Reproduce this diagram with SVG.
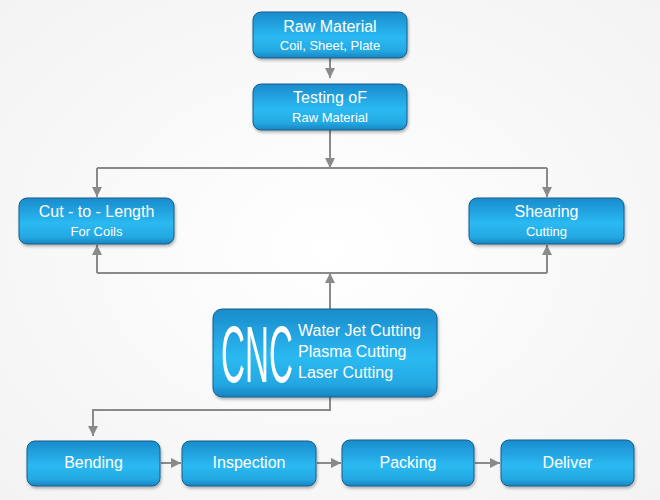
<svg xmlns="http://www.w3.org/2000/svg" width="660" height="500" viewBox="0 0 660 500">
<defs>
<linearGradient id="g" x1="0" y1="0" x2="0" y2="1">
<stop offset="0" stop-color="#1a8bcc"/>
<stop offset="0.55" stop-color="#2bb9f1"/>
<stop offset="0.85" stop-color="#24a8e2"/>
<stop offset="1" stop-color="#1784c2"/>
</linearGradient>
<filter id="sh" x="-10%" y="-10%" width="130%" height="140%">
<feGaussianBlur in="SourceAlpha" stdDeviation="1.5"/>
<feOffset dx="1" dy="2" result="b"/>
<feComponentTransfer><feFuncA type="linear" slope="0.3"/></feComponentTransfer>
<feMerge><feMergeNode/><feMergeNode in="SourceGraphic"/></feMerge>
</filter>
<marker id="ah" markerWidth="10" markerHeight="10" viewBox="0 0 10 10" refX="10" refY="5" orient="auto" markerUnits="userSpaceOnUse">
<path d="M0,0 L10,5 L0,10 z" fill="#8a8a8a"/>
</marker>
<radialGradient id="bg" cx="0.5" cy="0.5" r="0.7">
<stop offset="0" stop-color="#ffffff"/>
<stop offset="1" stop-color="#f3f3f3"/>
</radialGradient>
</defs>
<style>
.box{fill:url(#g);stroke:#145f88;stroke-width:1;filter:url(#sh)}
.t{font-family:"Liberation Sans",Arial,sans-serif;fill:#ffffff;text-anchor:middle;font-size:16px}
.s{font-family:"Liberation Sans",Arial,sans-serif;fill:#ffffff;text-anchor:middle;font-size:13px}
.c{fill:none;stroke:#8a8a8a;stroke-width:2}
.l{font-family:"Liberation Sans",Arial,sans-serif;fill:#ffffff;font-size:16px}
</style>
<rect width="660" height="500" fill="url(#bg)"/>
<g id="connectors">
<path class="c" d="M330,58 V78" marker-end="url(#ah)"/>
<path class="c" d="M330,130 V168" marker-end="url(#ah)"/>
<path class="c" d="M97,168 H547"/>
<path class="c" d="M97,168 V197" marker-end="url(#ah)"/>
<path class="c" d="M547,168 V197" marker-end="url(#ah)"/>
<path class="c" d="M330,309 V273" marker-end="url(#ah)"/>
<path class="c" d="M97,273 H547"/>
<path class="c" d="M97,273 V245" marker-end="url(#ah)"/>
<path class="c" d="M547,273 V245" marker-end="url(#ah)"/>
<path class="c" d="M330,397 V410 H93 V436" marker-end="url(#ah)"/>
<path class="c" d="M161,463 H181" marker-end="url(#ah)"/>
<path class="c" d="M317,463 H341" marker-end="url(#ah)"/>
<path class="c" d="M475,463 H500" marker-end="url(#ah)"/>
</g>
<g id="raw-material">
<rect class="box" x="253" y="12" width="154" height="46" rx="8"/>
<text class="t" x="330" y="32">Raw Material</text>
<text class="s" x="330" y="50">Coil, Sheet, Plate</text>
</g>
<g id="testing">
<rect class="box" x="253" y="84" width="154" height="46" rx="8"/>
<text class="t" x="330" y="103">Testing oF</text>
<text class="s" x="330" y="122">Raw Material</text>
</g>
<g id="cut-to-length">
<rect class="box" x="19" y="198" width="155" height="46" rx="8"/>
<text class="t" x="96.5" y="217">Cut - to - Length</text>
<text class="s" x="96.5" y="236">For Coils</text>
</g>
<g id="shearing">
<rect class="box" x="469" y="198" width="155" height="46" rx="8"/>
<text class="t" x="546.5" y="217">Shearing</text>
<text class="s" x="546.5" y="236">Cutting</text>
</g>
<g id="cnc">
<rect class="box" x="213" y="309" width="224" height="88" rx="9"/>
<text class="l" transform="translate(221,382) scale(0.415,1)" x="0" y="0" style="font-size:80px">CNC</text>
<text class="l" x="298" y="336">Water Jet Cutting</text>
<text class="l" x="298" y="357">Plasma Cutting</text>
<text class="l" x="298" y="378">Laser Cutting</text>
</g>
<g id="bending">
<rect class="box" x="27" y="441" width="133" height="45" rx="8"/>
<text class="t" x="93.5" y="468">Bending</text>
</g>
<g id="inspection">
<rect class="box" x="182" y="441" width="134" height="45" rx="8"/>
<text class="t" x="249" y="468">Inspection</text>
</g>
<g id="packing">
<rect class="box" x="342" y="440" width="132" height="46" rx="8"/>
<text class="t" x="408" y="468">Packing</text>
</g>
<g id="deliver">
<rect class="box" x="501" y="440" width="133" height="46" rx="8"/>
<text class="t" x="567.5" y="468">Deliver</text>
</g>
</svg>
